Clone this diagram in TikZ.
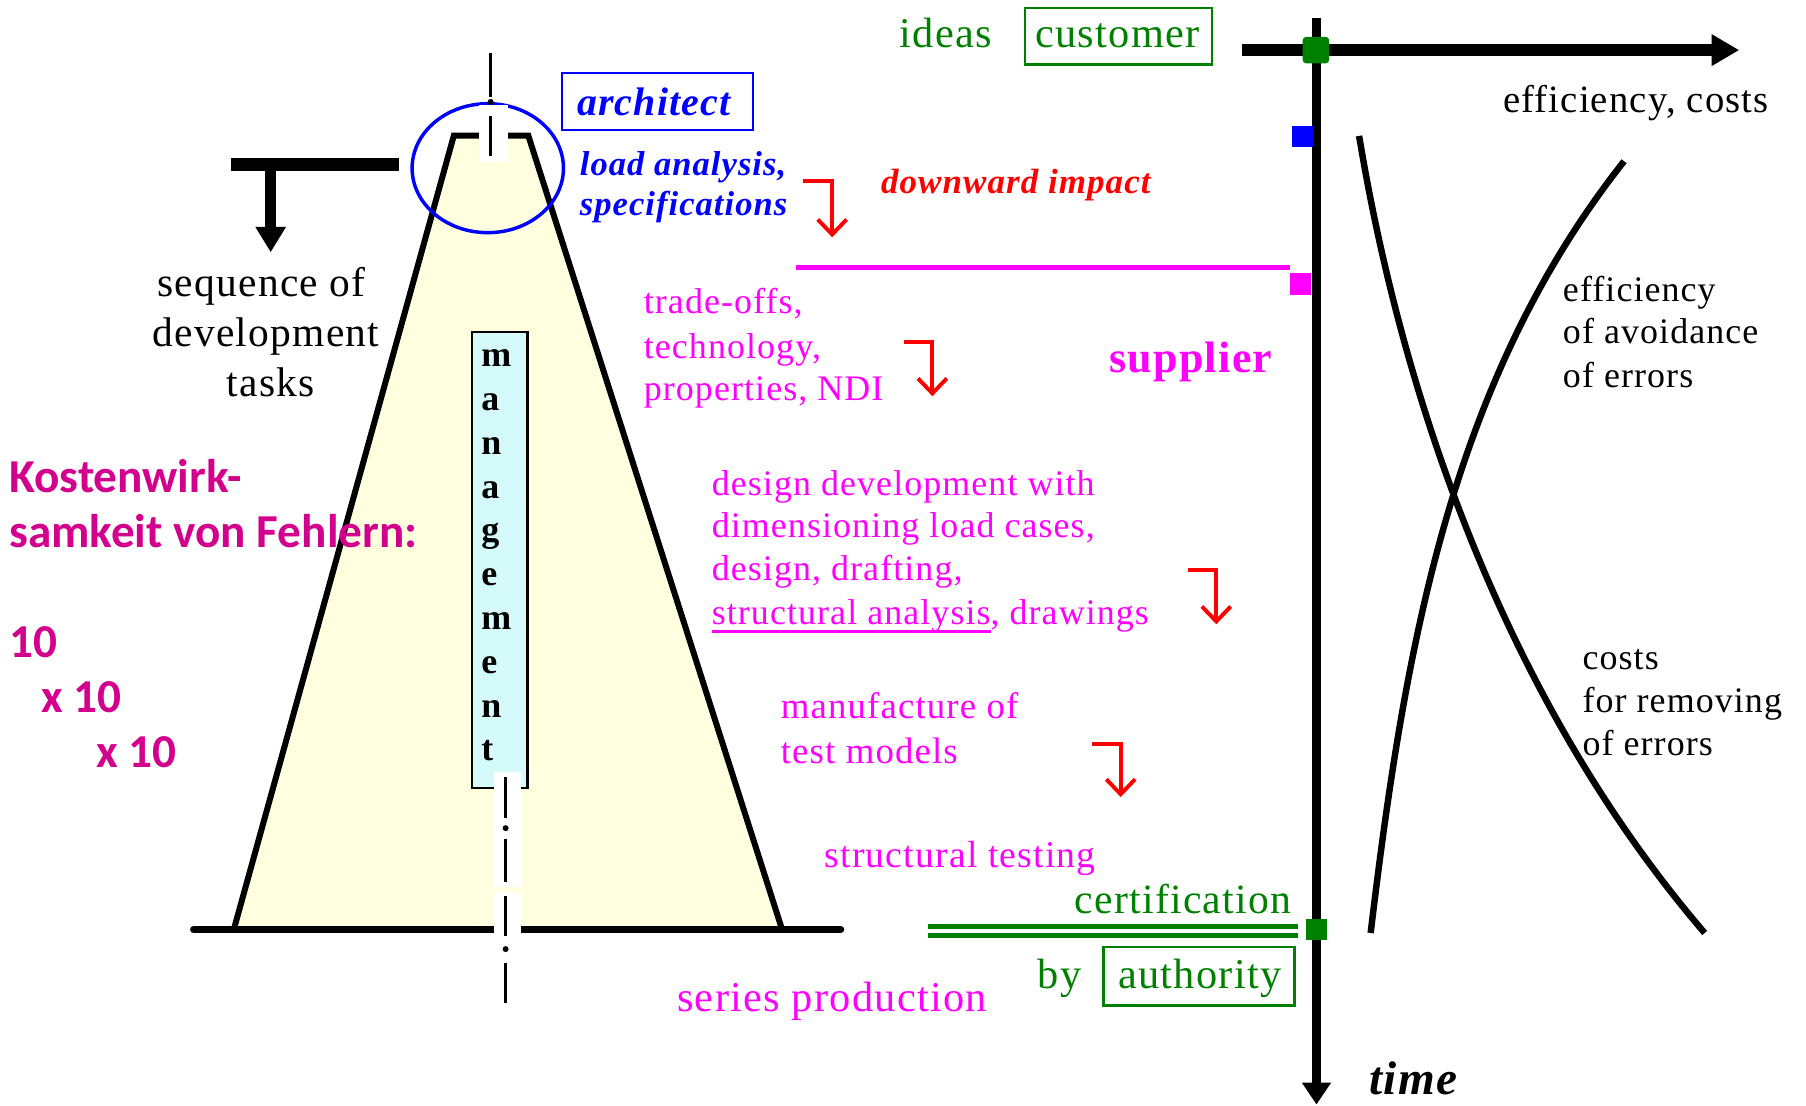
\documentclass[tikz,border=0pt]{standalone}
\usepackage{fontspec}
\setmainfont{Liberation Serif}[LetterSpace=3]
\newfontfamily\calibri{Carlito}
\usetikzlibrary{arrows.meta}
\definecolor{mag}{RGB}{255,0,255}
\definecolor{kost}{RGB}{210,0,140}
\definecolor{grn}{RGB}{0,128,0}
\definecolor{blu}{RGB}{0,0,255}
\definecolor{rd}{RGB}{255,0,0}
\definecolor{trapfill}{RGB}{255,255,224}
\definecolor{mgmtfill}{RGB}{212,250,250}
\newcommand\fsz[1]{\fontsize{#1}{#1}\selectfont}
\begin{document}
\begin{tikzpicture}[x=0.5pt,y=-0.5pt,
  lbl/.style={inner sep=0pt, outer sep=0pt, anchor=base west},
  lblc/.style={inner sep=0pt, outer sep=0pt, anchor=base},
  lble/.style={inner sep=0pt, outer sep=0pt, anchor=base east},
  redhook/.style={rd, line width=1.7pt, line join=miter, -{Straight Barb[length=6.5pt,width=12.5pt]}},
  framebox/.style={line width=1pt, inner sep=0pt, outer sep=0pt},
  cline/.style={line width=1.2pt},
  curve/.style={line width=2.8pt},
  txtblack/.style={lbl, font=\fsz{15.6}},
  txtmag/.style={lbl, mag, font=\fsz{15.6}},
  txtgrn/.style={lbl, grn, font=\fsz{18.4}},
  kosten/.style={lbl, kost, font=\calibri\bfseries\fsz{20.5}}
]
\useasboundingbox (0,0) rectangle (1568,960);

% ---------- trapezoid ----------
\coordinate (tbl) at (203,807);
\coordinate (ttl) at (394,117.8);
\coordinate (ttr) at (458.7,117.8);
\coordinate (tbr) at (679,807);
\fill[trapfill] (tbl) -- (ttl) -- (ttr) -- (tbr) -- cycle;
\draw[line width=2.6pt, line join=miter] (tbl) -- (ttl) -- (ttr) -- (tbr);
\coordinate (bl) at (168,807);
\coordinate (br) at (730,807);
\draw[line width=3pt, line cap=round] (bl) -- (br);

% ---------- architect ellipse ----------
\draw[blu, line width=1.5pt] (423.5,146) ellipse [x radius=65.7, y radius=56];

% ---------- management box ----------
\node[draw, line width=0.9pt, fill=mgmtfill, minimum width=24pt, minimum height=198pt, inner sep=0pt] (mbox) at (434,486) {};
\foreach \L [count=\i from 0] in {m,a,n,a,g,e,m,e,n,t}
  \node[lbl, font=\bfseries\fsz{15.6}] (ml\i) at (418,{318.5+38*\i}) {\L};

% ---------- white gaps and centre lines ----------
\fill[white] (416,91) rectangle (441,141);
\fill[white] (429,670) rectangle (452,770);
\fill[white] (429,774) rectangle (452,813);
\draw[cline] (426,46) -- (426,84);
\fill (426,88.5) circle [radius=2.6];
\draw[cline] (426,101) -- (426,135);
\draw[cline] (439,675) -- (439,710);
\fill (439,719) circle [radius=2.6];
\draw[cline] (439,728) -- (439,766);
\draw[cline] (439,778) -- (439,813);
\fill (439,824) circle [radius=2.6];
\draw[cline] (439,836) -- (439,871);

% ---------- sequence bar ----------
\coordinate (barL) at (200.5,143);
\coordinate (barR) at (346.5,143);
\coordinate (barA) at (235,143);
\coordinate (barB) at (235,219);
\draw[line width=5.8pt] (barL) -- (barR);
\draw[line width=4.6pt, -{Triangle[length=11pt,width=12.5pt]}] (barA) -- (barB);
\node[lblc, font=\fsz{18}] (seq1) at (227,257) {sequence of};
\node[lblc, font=\fsz{18}] (seq2) at (231,301) {development};
\node[lblc, font=\fsz{18}] (seq3) at (235,344) {tasks};

% ---------- architect ----------
\node[draw=blu, framebox, minimum width=83pt, minimum height=24.75pt] (archbox) at (571,88.25) {};
\node[lbl, blu, font=\bfseries\itshape\fsz{17.3}] (arch) at (501,100.7) {architect};
\node[lbl, blu, font=\bfseries\itshape\fsz{15}] (load1) at (503.5,152.5) {load analysis,};
\node[lbl, blu, font=\bfseries\itshape\fsz{15}] (load2) at (503.5,187) {specifications};

% ---------- downward impact + red hooks ----------
\node[lbl, rd, font=\bfseries\itshape\fsz{15.2}] (down) at (765,168) {downward impact};
\coordinate (r1a) at (697,157);  \coordinate (r1b) at (722.5,157); \coordinate (r1c) at (722.5,206);
\coordinate (r2a) at (785,297);  \coordinate (r2b) at (809.5,297); \coordinate (r2c) at (809.5,344);
\coordinate (r3a) at (1031,495); \coordinate (r3b) at (1056,495);  \coordinate (r3c) at (1056,542);
\coordinate (r4a) at (948,646);  \coordinate (r4b) at (973,646);   \coordinate (r4c) at (973,692);
\draw[redhook] (r1a) -- (r1b) -- (r1c);
\draw[redhook] (r2a) -- (r2b) -- (r2c);
\draw[redhook] (r3a) -- (r3b) -- (r3c);
\draw[redhook] (r4a) -- (r4b) -- (r4c);

% ---------- ideas / customer ----------
\node[txtgrn] (ideas) at (781,40.8) {ideas};
\node[draw=grn, framebox, minimum width=81pt, minimum height=24.5pt] (custbox) at (971,31.5) {};
\node[txtgrn] (cust) at (899,41) {customer};

% ---------- axes ----------
\coordinate (hx0) at (1078,43.5);
\coordinate (hx1) at (1510,43.5);
\draw[line width=5pt, -{Triangle[length=12pt,width=13pt]}] (hx0) -- (hx1);
\coordinate (vy0) at (1143,16);
\coordinate (vy1) at (1143,959);
\draw[line width=4.3pt, -{Triangle[length=9.5pt,width=12pt]}] (vy0) -- (vy1);
\fill[grn, rounded corners=1.5pt] (1131,32) rectangle (1154,55);
\fill[blu] (1122,109) rectangle (1140,128);
\fill[mag] (1120,237) rectangle (1138,256);
\fill[grn] (1134,798) rectangle (1152,816);
\node[lbl, font=\fsz{16.8}] (effc) at (1305,97.5) {efficiency, costs};
\node[lbl, font=\bfseries\itshape\fsz{20.5}] (time) at (1189,950) {time};

% ---------- supplier line ----------
\coordinate (mgA) at (691,232);
\coordinate (mgB) at (1120,232);
\draw[mag, line width=2.2pt] (mgA) -- (mgB);

% ---------- curves ----------
\coordinate (cA0) at (1180,118);
\coordinate (cA1) at (1480,810);
\coordinate (cB0) at (1190,810);
\coordinate (cB1) at (1410,140);
\draw[curve] (cA0) .. controls (1215,330) and (1300,600) .. (cA1);
\draw[curve] (cB0) .. controls (1220,560) and (1260,330) .. (cB1);
\node[txtblack] (ea1) at (1357,262) {efficiency};
\node[txtblack] (ea2) at (1357,298.5) {of avoidance};
\node[txtblack] (ea3) at (1357,336) {of errors};
\node[txtblack] (cr1) at (1374,581) {costs};
\node[txtblack] (cr2) at (1374,619) {for removing};
\node[txtblack] (cr3) at (1374,656) {of errors};

% ---------- magenta texts ----------
\node[txtmag] (to1) at (559,272) {trade-offs,};
\node[txtmag] (to2) at (559,311) {technology,};
\node[txtmag] (to3) at (559,347.5) {properties, NDI};
\node[lbl, mag, font=\bfseries\fsz{19.1}] (supp) at (963,323) {supplier};
\node[txtmag] (dd1) at (618,430) {design development with};
\node[txtmag] (dd2) at (618,466.5) {dimensioning load cases,};
\node[txtmag] (dd3) at (618,504) {design, drafting,};
\node[txtmag] (dd4) at (618,542.5) {structural analysis};
\node[txtmag] (dd5) at (dd4.base east) {, drawings};
\draw[mag, line width=1.3pt] ([yshift=-3pt]dd4.base west) -- ([yshift=-3pt]dd4.base east);
\node[lbl, mag, font=\fsz{16}] (mf1) at (678,624) {manufacture of};
\node[lbl, mag, font=\fsz{16}] (mf2) at (678,663) {test models};
\node[lbl, mag, font=\fsz{16.4}] (st) at (716,753) {structural testing};
\node[lbl, mag, font=\fsz{18.4}] (sp) at (588,878) {series production};

% ---------- certification ----------
\node[lble, grn, font=\fsz{18.1}] (cert) at (1121,793) {certification};
\coordinate (gA1) at (806,804.5); \coordinate (gB1) at (1127,804.5);
\coordinate (gA2) at (806,812);   \coordinate (gB2) at (1127,812);
\draw[grn, line width=2pt] (gA1) -- (gB1);
\draw[grn, line width=2pt] (gA2) -- (gB2);
\node[txtgrn] (by) at (901,858) {by};
\node[draw=grn, framebox, minimum width=83pt, minimum height=25.5pt] (authbox) at (1041,847.5) {};
\node[txtgrn] (auth) at (971,858) {authority};

% ---------- Kostenwirksamkeit ----------
\node[kosten] (k1) at (8,428) {Kostenwirk-};
\node[kosten] (k2) at (8,475.5) {samkeit von Fehlern:};
\node[kosten] (k3) at (8,571) {10};
\node[kosten] (k4) at (35.6,619) {x 10};
\node[kosten] (k5) at (83.7,666) {x 10};
\end{tikzpicture}
\end{document}
